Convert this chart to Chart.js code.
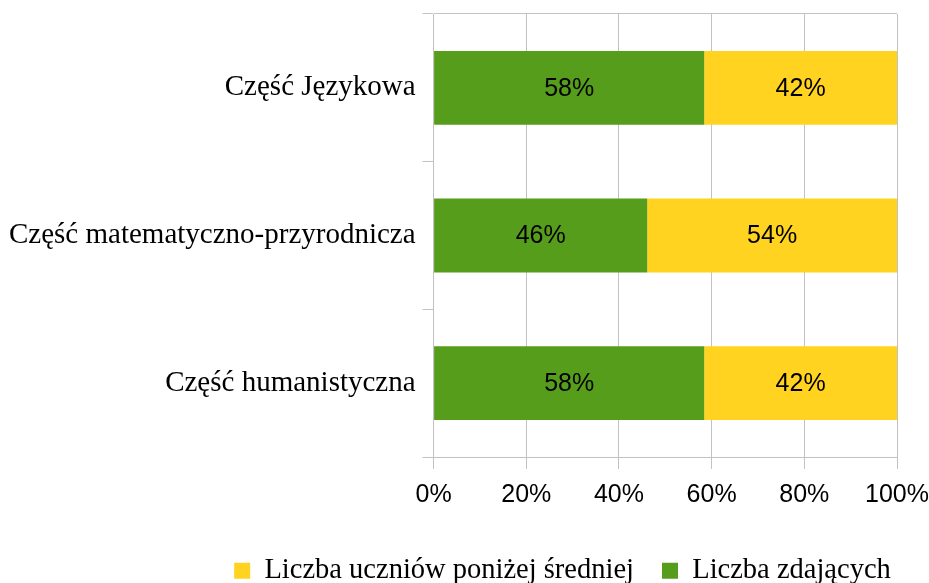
<!DOCTYPE html>
<html>
<head>
<meta charset="utf-8">
<script src="https://cdn.jsdelivr.net/npm/chart.js@4"></script>
<style>
  html, body { margin: 0; padding: 0; background: #fff; }
  #wrap { width: 929px; height: 583px; }
</style>
</head>
<body>
<div id="wrap"><canvas id="wynikiChart"></canvas></div>
<script>
const categories = ['Część Językowa', 'Część matematyczno-przyrodnicza', 'Część humanistyczna'];
const zdajacy = [58.4, 46.1, 58.4];
const ponizejSredniej = [41.6, 53.9, 41.6];
const xTicks = [0, 20, 40, 60, 80, 100];

const gridGray = '#c2c2c2';
const sans = '"Liberation Sans", Arial, sans-serif';
const serif = '"Liberation Serif", "Times New Roman", serif';

// etykiety z wartościami na środku słupków
const barLabels = {
    id: 'barLabels',
    afterDatasetsDraw(chart) {
        const ctx = chart.ctx;
        ctx.save();
        ctx.font = '25px ' + sans;
        ctx.fillStyle = '#000';
        ctx.textAlign = 'center';
        ctx.textBaseline = 'middle';
        chart.data.datasets.forEach((ds, i) => {
            chart.getDatasetMeta(i).data.forEach((bar, j) => {
                const p = bar.getCenterPoint();
                ctx.fillText(Math.round(ds.data[j]) + '%', p.x, p.y + 1);
            });
        });
        ctx.restore();
    }
};

// legenda przesunięta jak w oryginale
const legendShift = {
    id: 'legendShift',
    afterLayout(chart) {
        const lg = chart.legend;
        if (!lg) return;
        lg.left += 97; lg.right += 97;
        lg.top += 12; lg.bottom += 12;
    }
};

document.addEventListener('DOMContentLoaded', () => {
    const ctx = document.getElementById('wynikiChart').getContext('2d');
    new Chart(ctx, {
        type: 'bar',
        data: {
            labels: categories,
            datasets: [{
                label: 'Liczba zdających',
                data: zdajacy,
                backgroundColor: '#579d1c',
                barPercentage: 0.5,
                categoryPercentage: 1
            }, {
                label: 'Liczba uczniów poniżej średniej',
                data: ponizejSredniej,
                backgroundColor: '#ffd320',
                barPercentage: 0.5,
                categoryPercentage: 1
            }]
        },
        options: {
            indexAxis: 'y',
            responsive: true,
            maintainAspectRatio: false,
            animation: false,
            layout: { padding: { left: 2, right: 0, top: 0, bottom: 0 } },
            scales: {
                x: {
                    stacked: true,
                    min: 0,
                    max: 100,
                    afterBuildTicks: axis => { axis.ticks = xTicks.map(v => ({ value: v })); },
                    afterFit: axis => {
                        axis.paddingLeft = 0;
                        axis.paddingRight = 32;
                        axis.height = 59.5;
                    },
                    ticks: {
                        callback: v => v + '%',
                        color: '#000',
                        font: { family: sans, size: 25 },
                        padding: 11,
                        maxRotation: 0
                    },
                    grid: { color: gridGray, tickLength: 12, tickColor: gridGray },
                    border: { color: gridGray }
                },
                y: {
                    stacked: true,
                    afterFit: axis => {
                        axis.paddingTop = 14;
                        axis.paddingBottom = 0;
                    },
                    ticks: {
                        color: '#000',
                        font: { family: serif, size: 29 },
                        padding: 7
                    },
                    grid: {
                        offset: true,
                        tickLength: 11,
                        tickColor: gridGray,
                        color: c => c.index === 0 ? gridGray : 'rgba(0,0,0,0)'
                    },
                    border: { color: gridGray }
                }
            },
            plugins: {
                legend: {
                    position: 'bottom',
                    reverse: true,
                    labels: {
                        color: '#000',
                        boxWidth: 16,
                        boxHeight: 16,
                        padding: 28,
                        font: { family: serif, size: 28.5 }
                    }
                },
                tooltip: { enabled: false }
            }
        },
        plugins: [barLabels, legendShift]
    });
});
</script>
</body>
</html>
